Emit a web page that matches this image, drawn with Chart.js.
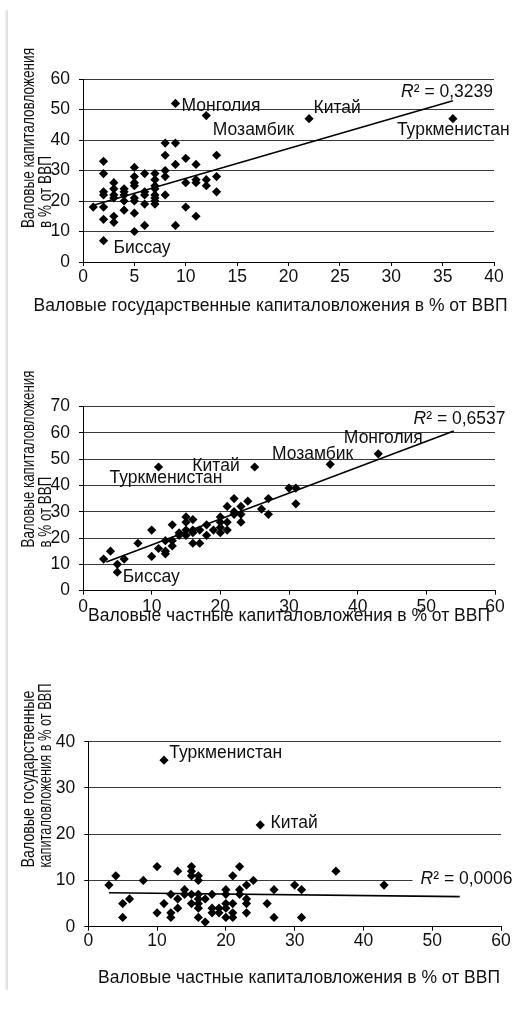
<!DOCTYPE html>
<html><head><meta charset="utf-8">
<script src="https://cdn.jsdelivr.net/npm/chart.js@4/dist/chart.umd.min.js"></script>
<style>
html,body{margin:0;padding:0;background:#fff;width:519px;height:1012px;overflow:hidden;position:relative;}
#edge{position:absolute;left:5px;top:10px;width:3px;height:980px;background:linear-gradient(to right,#f4f4f4,#dadada);}
canvas{position:absolute;left:0;}
</style></head><body>
<div id="edge"></div>
<canvas id="c1" width="519" height="330" style="top:0px"></canvas>
<canvas id="c2" width="519" height="330" style="top:330px"></canvas>
<canvas id="c3" width="519" height="352" style="top:660px"></canvas>
<script>
// ---------- Chart 1: state investment (x) vs total investment (y) ----------
const c1State = [1, 2,2,2,2,2,2,2, 3,3,3,3,3,3, 4,4,4,4,4, 5,5,5,5,5,5,5,5, 6,6,6,6,6, 7,7,7,7,7,7,7,7, 8,8,8,8,8, 9,9,9,9, 10,10,10, 11,11,11,11, 12,12,12, 13,13,13, 22, 36];
const c1Total = [18, 33,29,23,22,18,14,7, 26,24,22,21,15,13, 24,23,22,20,17, 31,28,26,25,21,20,16,10, 29,23,22,19,12, 29,27,25,24,22,21,20,19, 39,35,30,28,22, 52,39,32,12, 34,26,18, 32,27,26,15, 48,27,25, 35,28,23, 47, 47];
const c1TrendX = [1, 36];
const c1TrendY = [18.6, 52.9];
const c1Names = ['Монголия', 'Мозамбик', 'Китай', 'Туркменистан', 'Биссау'];
const c1NameX = [9, 12, 22, 36, 2];
const c1NameY = [52, 48, 47, 47, 7];
const c1R2 = '0,3239';
const c1XTicks = {min: 0, max: 40, step: 5};
const c1YTicks = {min: 0, max: 60, step: 10};
const c1XTitle = 'Валовые государственные капиталовложения в % от ВВП';
const c1YTitle = ['Валовые капиталовложения', 'в % от ВВП'];

// ---------- Chart 2: private investment (x) vs total investment (y) ----------
const c2Private = [3,4,5,5,6,8,10,10,11,11,12,12,12,13,13,13,14,14,15,15,15,15,16,16,16,16,17,17,18,18,19,20,20,20,20,21,21,21,22,22,22,23,23,23,24,25,26,27,27,30,31,31,36,43];
const c2Total   = [12,15,10,7,12,18,23,13,47,16,19,15,14,25,19,17,22,21,28,26,23,21,27,23,22,18,23,18,25,21,23,28,26,24,22,32,26,23,35,30,29,32,29,26,34,47,31,35,29,39,39,33,48,52];
const c2TrendX = [3.4, 54];
const c2TrendY = [10.9, 60.7];
const c2Names = ['Туркменистан', 'Китай', 'Мозамбик', 'Монголия', 'Биссау'];
const c2NameX = [11, 25, 36, 43, 5];
const c2NameY = [47, 47, 48, 52, 7];
const c2R2 = '0,6537';
const c2XTicks = {min: 0, max: 60, step: 10};
const c2YTicks = {min: 0, max: 70, step: 10};
const c2XTitle = 'Валовые частные капиталовложения в % от ВВП';
const c2YTitle = ['Валовые капиталовложения', 'в % от ВВП'];

// ---------- Chart 3: private investment (x) vs state investment (y) ----------
const c3Private = [3,4,5,5,6,8,10,10,11,11,12,12,12,13,13,13,14,14,15,15,15,15,15,16,16,16,16,16,16,16,17,17,18,18,18,19,19,20,20,20,20,20,21,21,21,21,22,22,22,23,23,23,23,24,25,26,27,27,30,31,31,36,43];
const c3State   = [9,11,5,2,6,10,13,3,36,5,7,3,2,12,6,4,8,7,13,12,11,7,5,11,10,7,6,5,4,2,6,1,7,4,3,4,3,8,7,5,4,2,11,5,3,2,13,8,7,9,6,5,3,10,22,5,8,2,9,8,2,12,9];
const c3TrendX = [3, 54];
const c3TrendY = [7.35, 6.5];
const c3Names = ['Туркменистан', 'Китай'];
const c3NameX = [11, 25];
const c3NameY = [36, 22];
const c3R2 = '0,0006';
const c3XTicks = {min: 0, max: 60, step: 10};
const c3YTicks = {min: 0, max: 40, step: 5};
const c3XTitle = 'Валовые частные капиталовложения в % от ВВП';
const c3YTitle = ['Валовые государственные', 'капиталовложения в % от ВВП'];

// ---------- layout / style (pixels) ----------
const FONT = '"Liberation Sans", Arial, Helvetica, sans-serif';
const FS = 17.5;
const INK = '#111';

const layouts = [
  {id:'c1', top:0, h:330, left:83, right:494, ptop:79, bottom:262, xPad:1,
   nameDX:[6,6.5,4.5,-56,10], nameDY:[7.1,19,-5.8,16.4,12.7],
   xTitle:[270.5,311], yTitleX:[33.5,50.5], yTitleStart:228, yTitleLen:[180, null],
   r2:[493,96.7], r2Box:false},
  {id:'c2', top:330, h:330, left:83, right:495, ptop:406.5, bottom:590.6, xPad:2,
   nameDX:[-49,-62.3,-58.3,-34.4,5.3], nameDY:[16.3,3.7,-5.1,-11.1,10.1],
   xTitle:[289,621], yTitleX:[33.5,50.5], yTitleStart:547.5, yTitleLen:[177, null],
   r2:[505.5,424.3], r2Box:false},
  {id:'c3', top:660, h:352, left:88.3, right:501, ptop:741.7, bottom:926.7, xPad:0,
   nameDX:[5.4,10.2], nameDY:[-1.9,3.3],
   xTitle:[299,983], yTitleX:[34,50.5], yTitleStart:867.5, yTitleLen:[177, 184],
   r2:[512.5,884], r2Box:true}
];

Chart.defaults.font.family = FONT;
Chart.defaults.font.size = FS;
Chart.defaults.color = INK;

function drawR2(c, text, xr, yb, box) {
  c.font = 'italic ' + FS + 'px ' + FONT;
  const wR = c.measureText('R').width;
  c.font = FS + 'px ' + FONT;
  const rest = '\u00B2 = ' + text;
  const wRest = c.measureText(rest).width;
  const x0 = xr - wR - wRest;
  if (box) {
    c.fillStyle = '#fff';
    c.fillRect(x0 - 8, yb - 15, wR + wRest + 12, 20);
  }
  c.fillStyle = INK;
  c.textAlign = 'left';
  c.font = 'italic ' + FS + 'px ' + FONT;
  c.fillText('R', x0, yb);
  c.font = FS + 'px ' + FONT;
  c.fillText(rest, x0 + wR, yb);
}

function makeChart(L, xs, ys, tx, ty, names, nx, ny, r2, xt, yt, xTitle, yTitle) {
  const pts = xs.map((x, i) => ({x: x, y: ys[i]}));
  const trend = tx.map((x, i) => ({x: x, y: ty[i]}));
  const textPlugin = {
    id: 'txt_' + L.id,
    afterDraw(chart) {
      const c = chart.ctx, sx = chart.scales.x, sy = chart.scales.y;
      c.save();
      c.fillStyle = INK;
      c.font = FS + 'px ' + FONT;
      c.textBaseline = 'alphabetic';
      c.textAlign = 'left';
      names.forEach((n, i) => {
        c.fillText(n, sx.getPixelForValue(nx[i]) + L.nameDX[i], sy.getPixelForValue(ny[i]) + L.nameDY[i]);
      });
      c.textAlign = 'center';
      c.fillText(xTitle, L.xTitle[0], L.xTitle[1] - L.top);
      let k = 1;
      yTitle.forEach((line, i) => {
        const w = c.measureText(line).width;
        if (L.yTitleLen[i]) k = L.yTitleLen[i] / w;
        c.save();
        c.translate(L.yTitleX[i], L.yTitleStart - L.top);
        c.rotate(-Math.PI / 2);
        c.scale(k, 1);
        c.textAlign = 'left';
        c.fillText(line, 0, 0);
        c.restore();
      });
      drawR2(c, r2, L.r2[0], L.r2[1] - L.top, L.r2Box);
      c.restore();
    }
  };
  return new Chart(document.getElementById(L.id), {
    type: 'scatter',
    data: {datasets: [
      {data: trend, showLine: true, borderColor: '#000', borderWidth: 1.6, pointRadius: 0, fill: false},
      {data: pts, pointStyle: 'rectRot', pointRadius: 4.6, backgroundColor: '#000', borderWidth: 0}
    ]},
    options: {
      responsive: false, animation: false, devicePixelRatio: 1,
      events: [],
      layout: {padding: {left: 0, right: 519 - L.right, top: L.ptop - L.top, bottom: 0}},
      plugins: {legend: {display: false}, tooltip: {enabled: false}, title: {display: false}},
      scales: {
        x: {type: 'linear', min: xt.min, max: xt.max,
            ticks: {stepSize: xt.step, padding: L.xPad, color: INK, maxRotation: 0, font: {size: FS}},
            grid: {drawOnChartArea: false, drawTicks: true, tickLength: 4, tickColor: '#000'},
            border: {display: true, color: '#000', width: 1},
            afterFit: s => { s.height = L.h - (L.bottom - L.top); }},
        y: {type: 'linear', min: yt.min, max: yt.max,
            ticks: {stepSize: yt.step, padding: 9, color: INK, font: {size: FS}},
            grid: {color: '#3a3a3a', lineWidth: 1, tickLength: 4, tickColor: '#000'},
            border: {display: true, color: '#000', width: 1},
            afterFit: s => { s.width = L.left; }}
      }
    },
    plugins: [textPlugin]
  });
}

makeChart(layouts[0], c1State, c1Total, c1TrendX, c1TrendY, c1Names, c1NameX, c1NameY, c1R2, c1XTicks, c1YTicks, c1XTitle, c1YTitle);
makeChart(layouts[1], c2Private, c2Total, c2TrendX, c2TrendY, c2Names, c2NameX, c2NameY, c2R2, c2XTicks, c2YTicks, c2XTitle, c2YTitle);
makeChart(layouts[2], c3Private, c3State, c3TrendX, c3TrendY, c3Names, c3NameX, c3NameY, c3R2, c3XTicks, c3YTicks, c3XTitle, c3YTitle);
</script>
</body></html>
